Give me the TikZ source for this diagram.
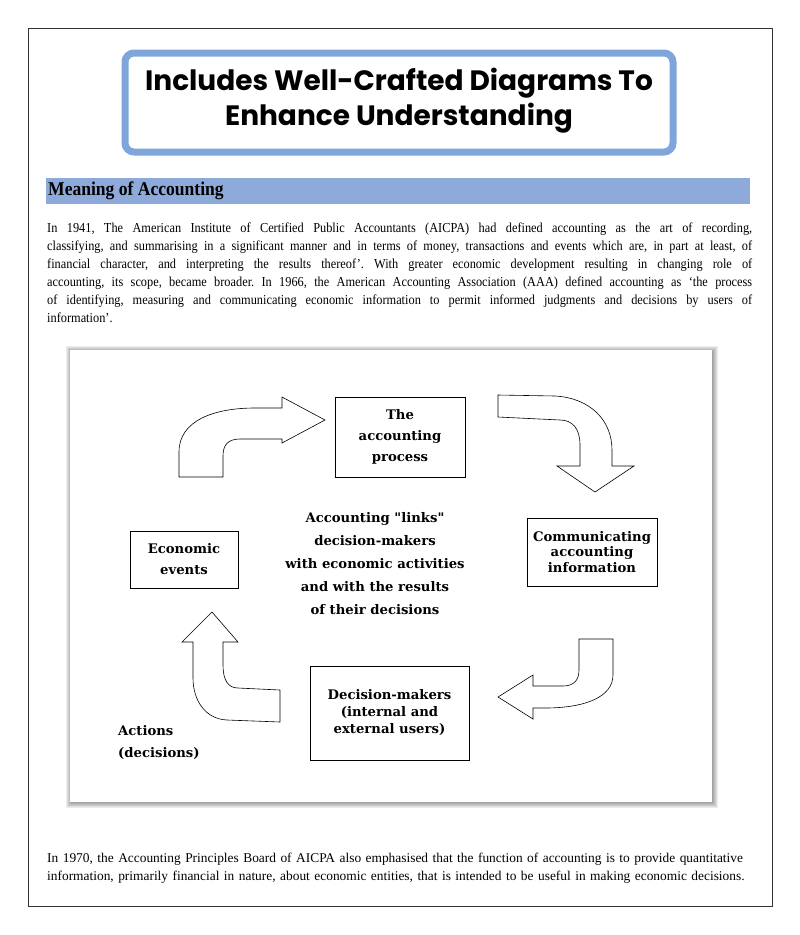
\documentclass[tikz,border=0pt]{standalone}
\usepackage{fontspec}
\setmainfont{Liberation Serif}
\newfontfamily\narrowfont[FakeStretch=0.9, Ligatures=TeX]{Liberation Serif}
\newfontfamily\titlefont{Poppins}
\newfontfamily\diagfont{DejaVu Serif}
\usetikzlibrary{positioning}
\definecolor{titleblue}{HTML}{7FA6DA}
\definecolor{barblue}{HTML}{8EAADB}
\tikzset{
pageframe/.style = {draw=black!80, line width=0.9pt},
titlebox/.style = {draw=titleblue, line width=7pt, rounded corners=9pt, fill=white},
headbar/.style = {fill=barblue, draw=none},
para/.style = {anchor=north west, text width=705pt, align=justify, inner sep=0pt, font=\narrowfont\fontsize{13.7}{17.9}\selectfont},
block/.style = {draw, fill=white, rectangle, align=center, line width=0.7pt, inner sep=0pt, font=\diagfont\bfseries\fontsize{13.2}{21}\selectfont},
caption/.style = {align=center, inner sep=0pt, font=\diagfont\bfseries\fontsize{13.2}{23}\selectfont},
bigarrow/.style = {draw, fill=white, line width=0.6pt, line join=miter}
}
\begin{document}
\frenchspacing
\begin{tikzpicture}[x=1pt, y=-1pt]
  \useasboundingbox (0,0) rectangle (800,935);
  \fill[white] (0,0) rectangle (800,935);
  \draw[pageframe] (28,28) rectangle (772,906);

  % title
  \draw[titlebox] (125,53) rectangle (673,152);
  \node[align=center, font=\titlefont\bfseries\fontsize{28}{35}\selectfont] (title) at (399,101)
    {Includes Well-Crafted Diagrams To\\Enhance Understanding};

  % section bar
  \fill[headbar] (46,178) rectangle (750,203);
  \draw[black!35, line width=1pt] (46,203) -- (750,203);
  \node[anchor=west, inner sep=0pt, font=\narrowfont\bfseries\fontsize{19.5}{21}\selectfont] (head) at (48,190.5) {Meaning of Accounting};

  \node[para] (intro) at (47,223) {In 1941, The American Institute of Certified Public Accountants (AICPA) had defined accounting as the art of recording,\linebreak
  classifying, and summarising in a significant manner and in terms of money, transactions and events which are, in part at least, of\linebreak
  financial character, and interpreting the results thereof'. With greater economic development resulting in changing role of\linebreak
  accounting, its scope, became broader. In 1966, the American Accounting Association (AAA) defined accounting as `the process\linebreak
  of identifying, measuring and communicating economic information to permit informed judgments and decisions by users of\linebreak
  information'.};

  % diagram panel with soft shadow
  \foreach \w in {1,...,6}
    \draw[black, opacity=0.07, line width=2*\w pt] (72,352) rectangle (712,802);
  \fill[white] (70,350) rectangle (712,802);

  \node[block, minimum width=130pt, minimum height=80pt] (process) at (400,437) {The\\accounting\\process};
  \node[block, minimum width=130pt, minimum height=68pt, font=\diagfont\bfseries\fontsize{13.2}{15.5}\selectfont] (inform) at (592,552) {Communicating\\accounting\\information};
  \node[block, minimum width=108pt, minimum height=57pt] (events) at (184,559.5) {Economic\\events};
  \node[block, minimum width=159pt, minimum height=94pt, font=\diagfont\bfseries\fontsize{13.2}{17}\selectfont] (users) at (389.5,713) {Decision-makers\\(internal and\\external users)};
  \node[caption] (links) at (375,563.5) {Accounting "links"\\decision-makers\\with economic activities\\and with the results\\of their decisions};
  \node[caption, align=left, anchor=north west, font=\diagfont\bfseries\fontsize{13.2}{22}\selectfont] (actions) at (118,725) {Actions\\(decisions)};

  % block arrows
  \draw[bigarrow] (179,477) -- (179,452) .. controls (179,420) and (215,408) .. (255,408) -- (282,408)
    -- (282,397) -- (325,420) -- (282,443) -- (282,439) -- (240,439)
    .. controls (228,439) and (223,445) .. (223,456) -- (223,477) -- cycle;
  \draw[bigarrow] (498,395) -- (555,396) .. controls (590,398) and (612,420) .. (612,450) -- (612,466)
    -- (634,466) -- (595,492) -- (557,466) -- (580,466) -- (580,445)
    .. controls (580,428) and (572,420) .. (560,420) -- (498,417) -- cycle;
  \draw[bigarrow] (579,639) -- (613,639) -- (613,675) .. controls (613,697) and (585,708) .. (545,708)
    -- (533,708) -- (533,719) -- (498,697) -- (533,675) -- (533,686) -- (563,686)
    .. controls (574,686) and (579,680) .. (579,670) -- cycle;
  \draw[bigarrow] (280,690) -- (280,722) -- (227,720) .. controls (205,719) and (193,700) .. (193,678)
    -- (193,642) -- (182,642) -- (212,612) -- (238,642) -- (223,642) -- (223,665)
    .. controls (223,680) and (228,688) .. (238,688) -- cycle;

  % closing paragraph
  \node[para, align=left, font=\fontsize{13.4}{17.9}\selectfont] (closing) at (47,852.5) {In 1970, the Accounting Principles Board of AICPA also emphasised that the function of accounting is to provide quantitative\\
  information, primarily financial in nature, about economic entities, that is intended to be useful in making economic decisions.};
\end{tikzpicture}
\end{document}
